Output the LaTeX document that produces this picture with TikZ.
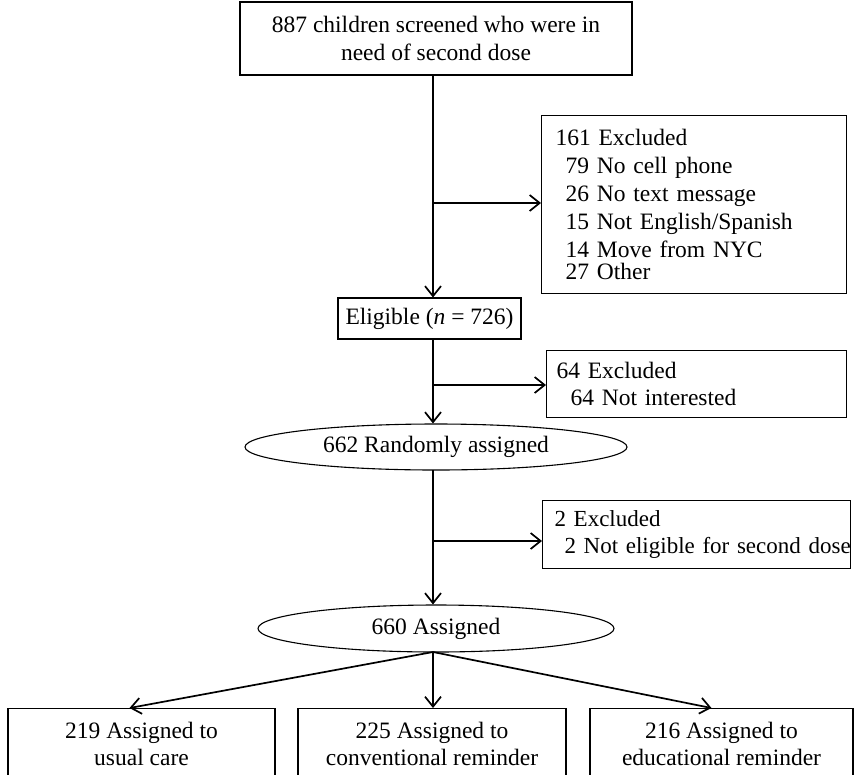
\documentclass[tikz,border=0pt]{standalone}
\usepackage{fontspec}
\setmainfont{Liberation Serif}
\usetikzlibrary{arrows.meta,shapes.geometric}
\begin{document}
\begin{tikzpicture}[x=1pt,y=-1pt,
  every node/.style={font=\fontsize{23.5}{27.5}\selectfont},
  box/.style={draw,line width=1.1pt,inner sep=0pt,align=center},
  exbox/.style={draw,line width=1.1pt,anchor=north west,align=left,inner ysep=0pt},
  oval/.style={draw,line width=1.1pt,ellipse,inner sep=0pt},
  arr/.style={line width=1.7pt,-{Straight Barb[length=10pt,width=16pt,line width=1.7pt]}}
]
\useasboundingbox (0,0) rectangle (859,774);
\node[box,minimum width=392,minimum height=73] (top) at (436,38.5)
  {887 children screened who were in\\need of second dose};
\node[exbox,minimum height=178,text width=277,inner xsep=14pt] (ex1) at (541,115)
  {161 Excluded\\[0.5pt]
   \hspace*{10pt}79 No cell phone\\[0.5pt]
   \hspace*{10pt}26 No text message\\[0.5pt]
   \hspace*{10pt}15 Not English/Spanish\\[0.5pt]
   \hspace*{10pt}14 Move from NYC\\[-5pt]
   \hspace*{10pt}27 Other};
\node[box,minimum width=183,minimum height=41] (elig) at (429.5,318.5)
  {Eligible (\textit{n} = 726)};
\node[exbox,minimum height=67,text width=280,inner xsep=10pt] (ex2) at (546,350)
  {64 Excluded\\\hspace*{14pt}64 Not interested};
\node[exbox,minimum height=68,text width=284,inner xsep=12pt,
  font=\fontsize{23}{27.5}\selectfont] (ex3) at (542,500)
  {2 Excluded\\\mbox{\hspace*{10pt}2 Not eligible for second dose}};
\node[oval,minimum width=382,minimum height=46] (rand) at (436,447)
  {662 Randomly assigned};
\node[oval,minimum width=356,minimum height=47] (asg) at (436,628.5)
  {660 Assigned};
\node[box,minimum width=267,minimum height=106,anchor=north] (b1) at (141.5,708)
  {219 Assigned to\\usual care\\\strut};
\node[box,minimum width=268,minimum height=106,anchor=north] (b2) at (432,708)
  {225 Assigned to\\conventional reminder\\\strut};
\node[box,minimum width=263,minimum height=106,anchor=north] (b3) at (721.5,708)
  {216 Assigned to\\educational reminder\\\strut};
% coordinates
\coordinate (t0) at (433,75);
\coordinate (j1) at (433,203);
\coordinate (j2) at (433,385);
\coordinate (e0) at (433,339);
\coordinate (r0) at (433,470);
\coordinate (j3) at (433,541);
\coordinate (a0) at (433,652);
% connectors
\draw[arr] (t0) -- (t0 |- elig.north);
\draw[arr] (j1) -- (j1 -| ex1.west);
\draw[arr] (e0) -- (e0 |- rand.north);
\draw[arr] (j2) -- (j2 -| ex2.west);
\draw[arr] (r0) -- (r0 |- asg.north);
\draw[arr] (j3) -- (j3 -| ex3.west);
\draw[arr] (a0) -- ([xshift=-12pt]b1.north);
\draw[arr] (a0) -- (a0 |- b2.north);
\draw[arr] (a0) -- ([xshift=-10pt]b3.north);
\end{tikzpicture}
\end{document}
